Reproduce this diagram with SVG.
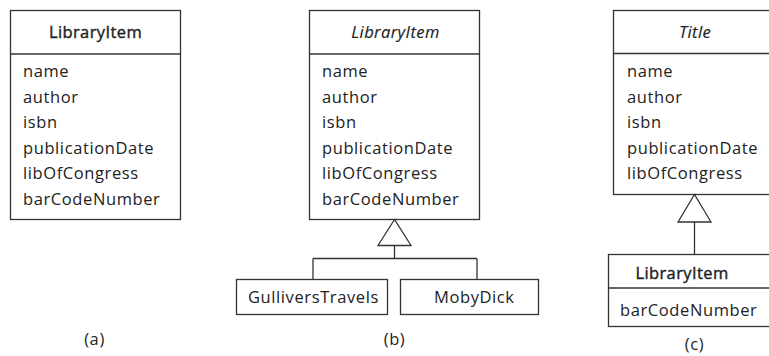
<svg xmlns="http://www.w3.org/2000/svg" width="769" height="356" viewBox="0 0 769 356">
<style>
rect, line, polygon { stroke: #333; stroke-width: 1.3; }
rect, polygon { fill: #fff; }
text { font-family: "Open Sans", "Noto Sans", sans-serif; font-size: 16.5px; letter-spacing: 0.6px; fill: #222; font-variant-ligatures: none; }
.hd { text-anchor: middle; letter-spacing: 0.4px; stroke: #222; stroke-width: 0.4px; }
.it { font-style: italic; stroke-width: 0.15px; }
.c { text-anchor: middle; }
</style>
<g id="a-LibraryItem">
<rect x="10.5" y="10.5" width="170" height="209"/>
<line x1="10.5" y1="54" x2="180.5" y2="54"/>
<text class="hd" x="95.5" y="38">LibraryItem</text>
<text x="23" y="77">name</text>
<text x="23" y="102.5">author</text>
<text x="23" y="128">isbn</text>
<text x="23" y="153.5">publicationDate</text>
<text x="23" y="179">libOfCongress</text>
<text x="23" y="204.5">barCodeNumber</text>
</g>
<g id="b-LibraryItem">
<rect x="309.5" y="10.5" width="170" height="209"/>
<line x1="309.5" y1="54" x2="479.5" y2="54"/>
<text class="hd it" x="395.5" y="38">LibraryItem</text>
<text x="322" y="77">name</text>
<text x="322" y="102.5">author</text>
<text x="322" y="128">isbn</text>
<text x="322" y="153.5">publicationDate</text>
<text x="322" y="179">libOfCongress</text>
<text x="322" y="204.5">barCodeNumber</text>
</g>
<g id="b-GulliversTravels">
<rect x="236.5" y="279.5" width="151" height="35"/>
<text x="248" y="303">GulliversTravels</text>
</g>
<g id="b-MobyDick">
<rect x="400.5" y="279.5" width="138" height="35"/>
<text x="434" y="303">MobyDick</text>
</g>
<g id="c-Title">
<rect x="613.5" y="10.5" width="180" height="184"/>
<line x1="613.5" y1="53.5" x2="793.5" y2="53.5"/>
<text class="hd it" x="695" y="38">Title</text>
<text x="627" y="77">name</text>
<text x="627" y="102.5">author</text>
<text x="627" y="128">isbn</text>
<text x="627" y="153.5">publicationDate</text>
<text x="627" y="179">libOfCongress</text>
</g>
<g id="c-LibraryItem">
<rect x="608.5" y="254.5" width="180" height="72"/>
<line x1="608.5" y1="288" x2="788.5" y2="288"/>
<text class="hd" x="682" y="279">LibraryItem</text>
<text x="620" y="316">barCodeNumber</text>
</g>
<g id="connectors">
<polygon points="394.5,219.5 378,245.5 411,245.5"/>
<line x1="394.5" y1="245.5" x2="394.5" y2="258.5"/>
<line x1="313" y1="258.5" x2="477" y2="258.5"/>
<line x1="313" y1="258.5" x2="313" y2="279.5"/>
<line x1="477" y1="258.5" x2="477" y2="279.5"/>
<polygon points="694.5,194.5 678,222 711,222"/>
<line x1="694.5" y1="222" x2="694.5" y2="254.5"/>
</g>
<g id="labels">
<text class="c" x="94.5" y="345">(a)</text>
<text class="c" x="394.5" y="345">(b)</text>
<text class="c" x="694.5" y="350">(c)</text>
</g>
</svg>
